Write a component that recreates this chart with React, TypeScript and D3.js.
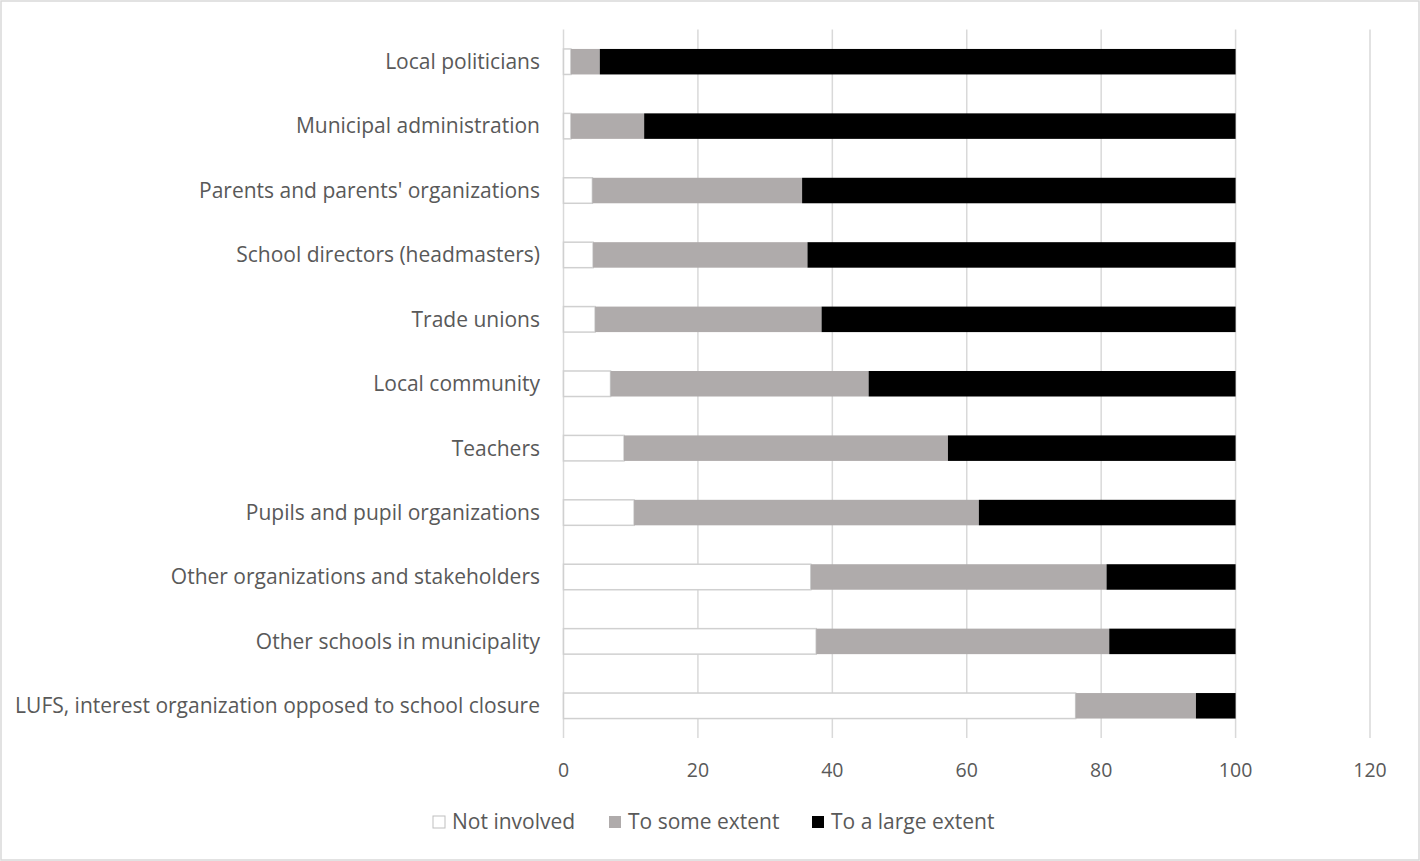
import React from "react";
import * as d3 from "d3";

const categories = [
  "Local politicians",
  "Municipal administration",
  "Parents and parents' organizations",
  "School directors (headmasters)",
  "Trade unions",
  "Local community",
  "Teachers",
  "Pupils and pupil organizations",
  "Other organizations and stakeholders",
  "Other schools in municipality",
  "LUFS, interest organization opposed to school closure",
];
const notInvolved = [1.1, 1.1, 4.3, 4.4, 4.7, 7.0, 9.0, 10.5, 36.8, 37.6, 76.2];
const someExtent = [4.3, 10.9, 31.2, 31.9, 33.7, 38.4, 48.2, 51.3, 44.0, 43.6, 17.9];
const largeExtent = [94.6, 88.0, 64.5, 63.7, 61.6, 54.6, 42.8, 38.2, 19.2, 18.8, 5.9];
const seriesNames = ["Not involved", "To some extent", "To a large extent"];
const xTicks = [0, 20, 40, 60, 80, 100, 120];

const W = 1420;
const H = 861;
const FONT = "'Open Sans', Lato, sans-serif";
const FS_TICK = 19.5;
const FS_LABEL = 21;
const fills = ["#ffffff", "#afabab", "#000000"];
const strokes = ["#d0d0d0", "none", "none"];

export default function App() {
  const x = d3.scaleLinear().domain([0, 120]).range([563.5, 1370]);
  const y = d3
    .scaleBand<string>()
    .domain(categories)
    .range([29.5, 738])
    .paddingInner(0.604)
    .paddingOuter(0.302);
  const series = [notInvolved, someExtent, largeExtent];
  const rows = categories.map((c, i) => {
    let acc = 0;
    return series.map((s, k) => {
      const x0 = acc;
      acc += s[i];
      return { c, k, x0, x1: Math.min(acc, 100) };
    });
  });
  const legendItems = [
    { x: 433, label: seriesNames[0] },
    { x: 609, label: seriesNames[1] },
    { x: 812, label: seriesNames[2] },
  ];
  return (
    <svg
      width={W}
      height={H}
      style={{ position: "absolute", left: 0, top: 0, background: "#fff" }}
      fontFamily={FONT}
    >
      <rect x={1} y={1} width={W - 2} height={H - 2} fill="#fff" stroke="#d9d9d9" strokeWidth={1.5} />
      {xTicks.map((t) => (
        <g key={t}>
          <line x1={x(t)} x2={x(t)} y1={29.5} y2={738} stroke="#d9d9d9" strokeWidth={1.5} />
          <text x={x(t)} y={770} dy="0.35em" textAnchor="middle" fontSize={FS_TICK} fill="#595959">
            {t}
          </text>
        </g>
      ))}
      {rows.map((segs, i) =>
        segs.map((s) => (
          <rect
            key={`${i}-${s.k}`}
            x={x(s.x0)}
            y={y(s.c)!}
            width={x(s.x1) - x(s.x0)}
            height={y.bandwidth()}
            fill={fills[s.k]}
            stroke={strokes[s.k]}
            strokeWidth={1.5}
          />
        ))
      )}
      {categories.map((c) => (
        <text
          key={c}
          x={540}
          y={y(c)! + y.bandwidth() / 2}
          dy="0.35em"
          textAnchor="end"
          fontSize={FS_LABEL}
          fill="#595959"
        >
          {c}
        </text>
      ))}
      {legendItems.map((l, k) => (
        <g key={l.label}>
          <rect
            x={l.x}
            y={816}
            width={12}
            height={12}
            fill={fills[k]}
            stroke={k === 0 ? "#bfbfbf" : "none"}
          />
          <text x={l.x + 19} y={822} dy="0.35em" fontSize={FS_LABEL} fill="#595959">
            {l.label}
          </text>
        </g>
      ))}
    </svg>
  );
}
